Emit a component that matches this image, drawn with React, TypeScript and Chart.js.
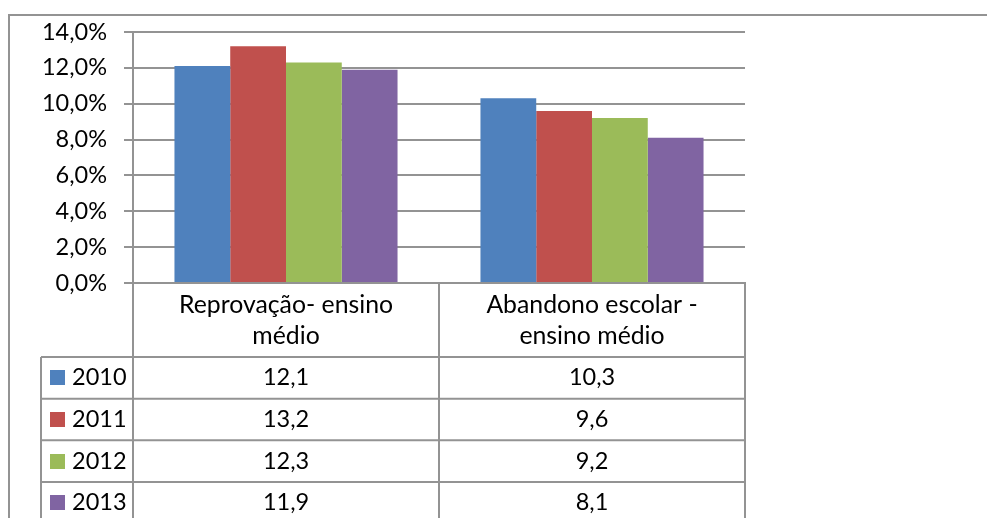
import React, { useEffect, useRef } from 'react';
import { Chart, registerables } from 'chart.js';

Chart.register(...registerables);

// ---- data ----
const categories: string[][] = [
  ['Reprovação- ensino', 'médio'],
  ['Abandono escolar -', 'ensino médio'],
];
const seriesNames = ['2010', '2011', '2012', '2013'];
const values2010 = [12.1, 10.3];
const values2011 = [13.2, 9.6];
const values2012 = [12.3, 9.2];
const values2013 = [11.9, 8.1];
const seriesValues = [values2010, values2011, values2012, values2013];
const seriesColors = ['#4F81BD', '#C0504D', '#9BBB59', '#8064A2'];
const yMin = 0;
const yMax = 14;
const yStep = 2;

// ---- style ----
const FONT = 'Lato, "Open Sans", sans-serif';
const FONT_SIZE = 23.5;
const HEADER_FONT_SIZE = 24.8;
const LINE_COLOR = '#939393';
const HEADER_H = 74;
const ROW_H = 41.67;
const LEGEND_LEFT = 41;
const KEY_X = 50;
const KEY_SIZE = 15;
const KEY_TEXT_X = 72;

const fmtPct = (v: number) => v.toFixed(1).replace('.', ',') + '%';
const fmtNum = (v: number) => v.toFixed(1).replace('.', ',');

const tablePlugin = {
  id: 'dataTable',
  afterDraw(chart: any) {
    const ctx = chart.ctx as CanvasRenderingContext2D;
    const { left, right, bottom } = chart.chartArea;
    const xs = chart.scales.x;
    const n = categories.length;
    const catW = (xs.right - xs.left) / n;
    const H = chart.height;
    const W = chart.width;
    ctx.save();
    ctx.strokeStyle = LINE_COLOR;
    ctx.lineWidth = 2;
    const line = (x1: number, y1: number, x2: number, y2: number) => {
      ctx.beginPath();
      ctx.moveTo(x1, y1);
      ctx.lineTo(x2, y2);
      ctx.stroke();
    };
    // outer frame
    line(9, 15, W, 15);
    line(9, 14, 9, H);
    // vertical lines of table
    line(left, bottom, left, H);
    for (let i = 0; i < n; i++) {
      const xr = xs.left + catW * (i + 1);
      line(xr, bottom - 1, xr, H);
    }
    const headerBottom = bottom + HEADER_H;
    line(LEGEND_LEFT, headerBottom, LEGEND_LEFT, H);
    // horizontal lines
    for (let r = 0; r <= seriesNames.length; r++) {
      const y = headerBottom + r * ROW_H;
      line(LEGEND_LEFT, y, right, y);
    }
    // header text
    ctx.fillStyle = '#000';
    ctx.font = `${HEADER_FONT_SIZE}px ${FONT}`;
    ctx.textAlign = 'center';
    ctx.textBaseline = 'middle';
    for (let i = 0; i < n; i++) {
      const cx = xs.getPixelForValue(i);
      categories[i].forEach((t, k) => {
        ctx.fillText(t, cx, bottom + 22 + k * 31);
      });
    }
    // rows
    ctx.font = `${FONT_SIZE}px ${FONT}`;
    seriesNames.forEach((name, r) => {
      const cy = headerBottom + r * ROW_H + ROW_H / 2;
      ctx.fillStyle = seriesColors[r];
      ctx.fillRect(KEY_X, Math.round(cy - KEY_SIZE / 2), KEY_SIZE, KEY_SIZE);
      ctx.fillStyle = '#000';
      ctx.textAlign = 'left';
      ctx.fillText(name, KEY_TEXT_X, cy);
      ctx.textAlign = 'center';
      for (let i = 0; i < n; i++) {
        ctx.fillText(fmtNum(seriesValues[r][i]), xs.getPixelForValue(i), cy);
      }
    });
    ctx.restore();
  },
};

const bgPlugin = {
  id: 'bg',
  beforeDraw(chart: any) {
    const ctx = chart.ctx;
    ctx.save();
    ctx.fillStyle = '#fff';
    ctx.fillRect(0, 0, chart.width, chart.height);
    ctx.restore();
  },
};

export default function App() {
  const ref = useRef<HTMLCanvasElement>(null);
  useEffect(() => {
    if (!ref.current) return;
    const chart = new Chart(ref.current, {
      type: 'bar',
      data: {
        labels: categories.map((c) => c.join(' ')),
        datasets: seriesNames.map((name, i) => ({
          label: name,
          data: seriesValues[i],
          backgroundColor: seriesColors[i],
          borderWidth: 0,
          categoryPercentage: 0.729,
          barPercentage: 1,
        })),
      },
      options: {
        animation: false,
        responsive: false,
        devicePixelRatio: 1,
        layout: { padding: { left: 0, top: 32, right: 987 - 745, bottom: 0 } },
        plugins: {
          legend: { display: false },
          tooltip: { enabled: false },
        },
        scales: {
          x: {
            ticks: { display: false },
            grid: { display: false },
            border: { display: false },
            afterFit: (s: any) => {
              s.height = 518 - 283;
            },
          },
          y: {
            min: yMin,
            max: yMax,
            ticks: {
              stepSize: yStep,
              padding: 17,
              color: '#000',
              font: { family: FONT, size: FONT_SIZE },
              callback: (v: any) => fmtPct(Number(v)),
            },
            grid: { color: LINE_COLOR, lineWidth: 2, tickLength: 9, tickColor: LINE_COLOR },
            border: { display: true, color: LINE_COLOR, width: 2 },
            afterFit: (s: any) => {
              s.width = 133;
            },
          },
        },
      },
      plugins: [bgPlugin, tablePlugin],
    });
    return () => chart.destroy();
  }, []);
  return (
    <div style={{ position: 'absolute', left: 0, top: 0, width: 987, height: 518, background: '#fff' }}>
      <canvas ref={ref} width={987} height={518} />
    </div>
  );
}
